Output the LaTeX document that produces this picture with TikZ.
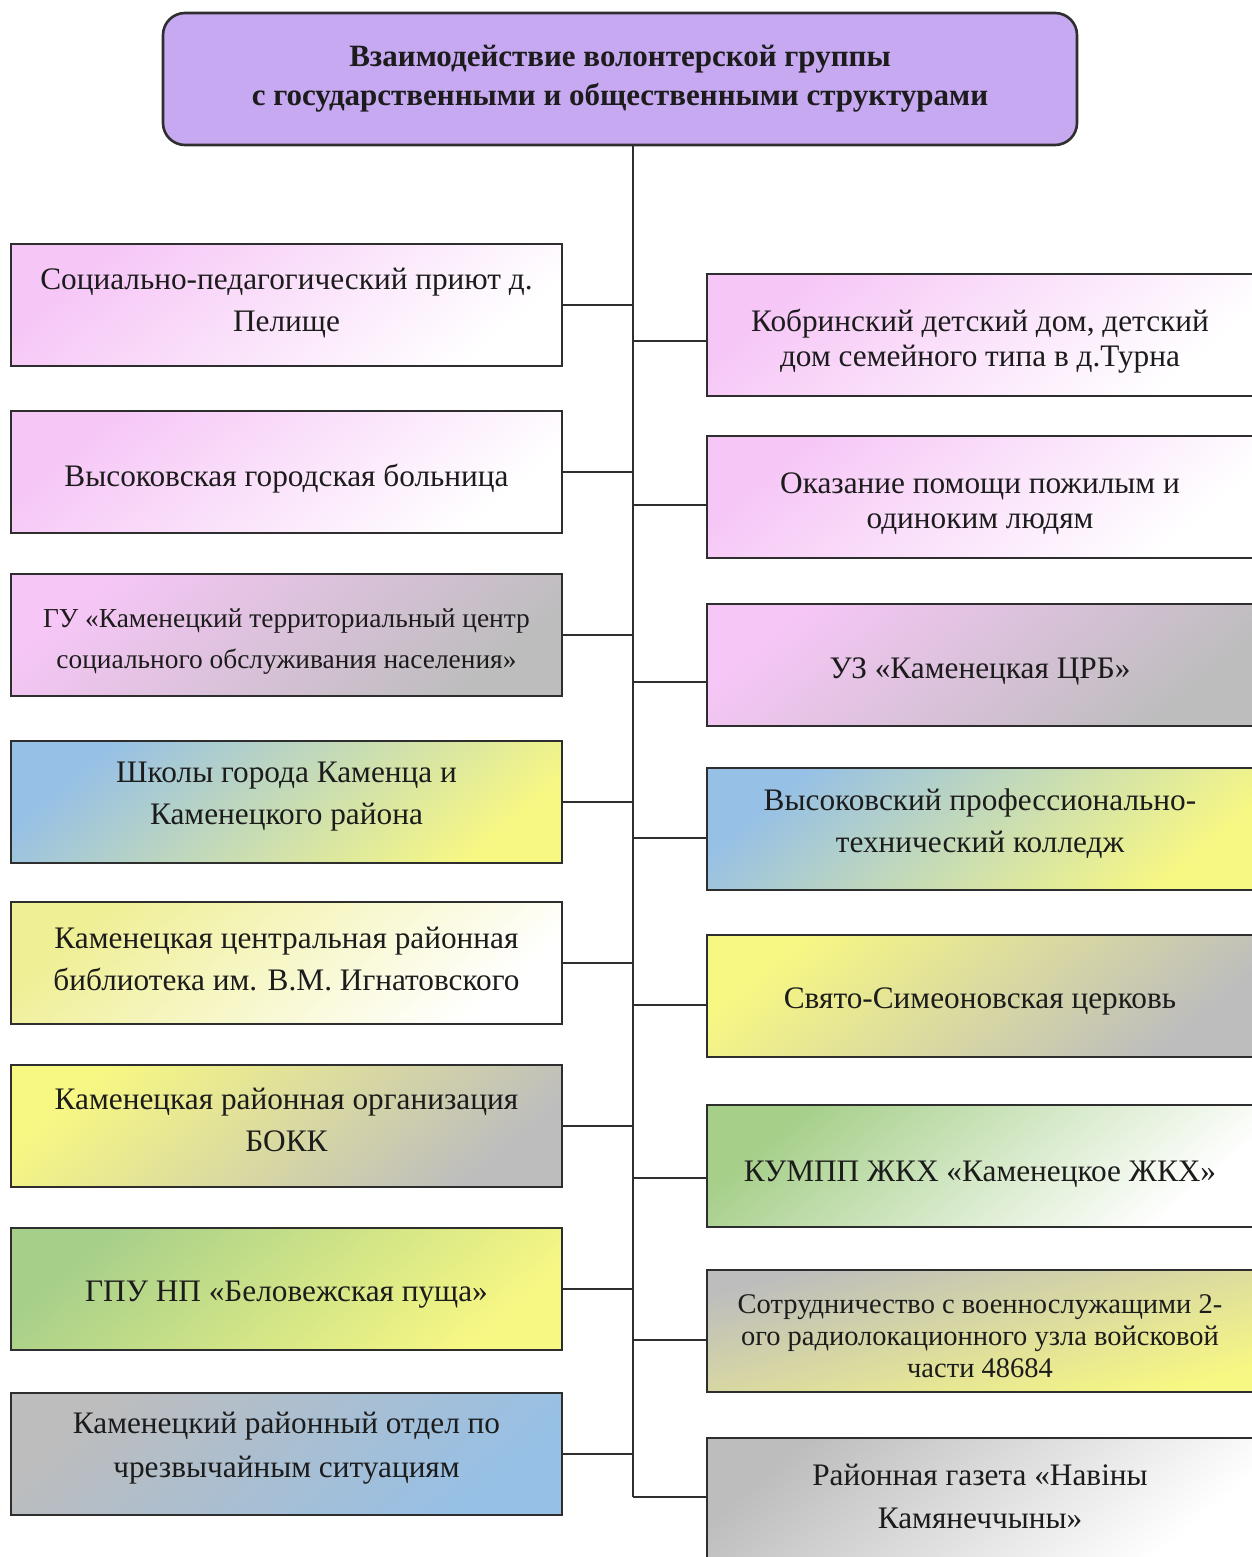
\documentclass[tikz,border=0pt]{standalone}
\usepackage{fontspec}
\setmainfont{Liberation Serif}
\begin{document}
\begin{tikzpicture}[x=1pt,y=-1pt]
\definecolor{pinkc}{HTML}{F6C6F6}
\definecolor{grayc}{HTML}{BDBDBD}
\definecolor{bluec}{HTML}{96C0E6}
\definecolor{yellc}{HTML}{F7F784}
\definecolor{greenc}{HTML}{A6CF8A}
\definecolor{lyellc}{HTML}{EFEF96}
\definecolor{purplec}{HTML}{C6A9F1}
\definecolor{linec}{HTML}{2E2E2E}
\definecolor{textc}{HTML}{1C1C1C}
\tikzset{
  gbox/.style 2 args={draw=linec, line width=2.4pt, top color=#1, bottom color=#2, shading angle=40, inner sep=0pt},
  lbox/.style={minimum width=551pt, minimum height=122pt},
  rbox/.style={minimum width=546pt, minimum height=122pt},
  txt/.style={inner sep=0pt, align=center, text=textc, font=\fontsize{31.3}{42}\selectfont},
  conn/.style={draw=linec, line width=2pt}
}
\useasboundingbox (0,0) rectangle (1251,1557);
\fill[white] (0,0) rectangle (1251,1557);

\node[draw=linec, line width=2.6pt, fill=purplec, rounded corners=22pt, minimum width=914pt, minimum height=132pt,
  align=center, text=textc, font=\bfseries\fontsize{31}{39}\selectfont] (top) at (620,79)
  {Взаимодействие волонтерской группы\\с государственными и общественными структурами};

% left column boxes
\node[gbox={pinkc}{white}, lbox] (l1) at (286.5,305) {};
\node[gbox={pinkc}{white}, lbox] (l2) at (286.5,472) {};
\node[gbox={pinkc}{grayc}, lbox] (l3) at (286.5,635) {};
\node[gbox={bluec}{yellc}, lbox] (l4) at (286.5,802) {};
\node[gbox={lyellc}{white}, lbox] (l5) at (286.5,963) {};
\node[gbox={yellc}{grayc}, lbox] (l6) at (286.5,1126) {};
\node[gbox={greenc}{yellc}, lbox] (l7) at (286.5,1289) {};
\node[gbox={grayc}{bluec}, lbox] (l8) at (286.5,1454) {};
% left texts
\node[txt] (l1t) at ([yshift=2pt]l1.center) {Социально-педагогический приют д.\\Пелище};
\node[txt] (l2t) at ([yshift=-7pt]l2.center) {Высоковская городская больница};
\node[txt, font=\fontsize{27.4}{41}\selectfont] (l3t) at ([yshift=-7pt]l3.center) {ГУ «Каменецкий территориальный центр\\социального обслуживания населения»};
\node[txt] (l4t) at ([yshift=5pt]l4.center) {Школы города Каменца и\\Каменецкого района};
\node[txt] (l5t) at ([yshift=4pt]l5.center) {Каменецкая центральная районная\\библиотека им. В.М. Игнатовского};
\node[txt] (l6t) at ([yshift=6pt]l6.center) {Каменецкая районная организация\\БОКК};
\node[txt] (l7t) at ([yshift=-6pt]l7.center) {ГПУ НП «Беловежская пуща»};
\node[txt, font=\fontsize{31.3}{44}\selectfont] (l8t) at ([yshift=6pt]l8.center) {Каменецкий районный отдел по\\чрезвычайным ситуациям};

% right column boxes
\node[gbox={pinkc}{white}, rbox] (r1) at (980,335) {};
\node[gbox={pinkc}{white}, rbox] (r2) at (980,497) {};
\node[gbox={pinkc}{grayc}, rbox] (r3) at (980,665) {};
\node[gbox={bluec}{yellc}, rbox] (r4) at (980,829) {};
\node[gbox={yellc}{grayc}, rbox] (r5) at (980,996) {};
\node[gbox={greenc}{white}, rbox] (r6) at (980,1166) {};
\node[gbox={grayc}{yellc}, rbox, shading angle=15] (r7) at (980,1331) {};
\node[gbox={grayc}{white}, rbox] (r8) at (980,1499) {};
% right texts
\node[txt, font=\fontsize{31.3}{35}\selectfont] (r1t) at ([yshift=-6pt]r1.center) {Кобринский детский дом, детский\\дом семейного типа в д.Турна};
\node[txt, font=\fontsize{31.3}{35}\selectfont] (r2t) at ([yshift=-7pt]r2.center) {Оказание помощи пожилым и\\одиноким людям};
\node[txt] (r3t) at ([yshift=-6pt]r3.center) {УЗ «Каменецкая ЦРБ»};
\node[txt] (r4t) at ([yshift=5pt]r4.center) {Высоковский профессионально-\\технический колледж};
\node[txt] (r5t) at ([yshift=-5pt]r5.center) {Свято-Симеоновская церковь};
\node[txt] (r6t) at ([yshift=-8pt]r6.center) {КУМПП ЖКХ «Каменецкое ЖКХ»};
\node[txt, font=\fontsize{28.5}{32}\selectfont] (r7t) at ([yshift=-5pt]r7.center) {Сотрудничество с военнослужащими 2-\\ого радиолокационного узла войсковой\\части 48684};
\node[txt, font=\fontsize{31.3}{43}\selectfont] (r8t) at ([yshift=3pt]r8.center) {Районная газета «Навіны\\Камянеччыны»};

% trunk
\coordinate (tA) at (633,145);
\coordinate (tB) at (633,1497);
\draw[conn] (tA) -- (tB);

\foreach \n in {l1,l2,l3,l4,l5,l6,l7,l8}{
  \draw[conn] (\n.east) -- (\n.east -| tA);
}
\draw[conn] ([yshift=-6pt]r1.west) -- ([yshift=-6pt]r1.west -| tA);
\draw[conn] ([yshift=-8pt]r2.west) -- ([yshift=-8pt]r2.west -| tA);
\draw[conn] ([yshift=-17pt]r3.west) -- ([yshift=-17pt]r3.west -| tA);
\draw[conn] ([yshift=-9pt]r4.west) -- ([yshift=-9pt]r4.west -| tA);
\draw[conn] ([yshift=-9pt]r5.west) -- ([yshift=-9pt]r5.west -| tA);
\draw[conn] ([yshift=-12pt]r6.west) -- ([yshift=-12pt]r6.west -| tA);
\draw[conn] ([yshift=-9pt]r7.west) -- ([yshift=-9pt]r7.west -| tA);
\draw[conn] ([yshift=2pt]r8.west) -- ([yshift=2pt]r8.west -| tA);
\end{tikzpicture}
\end{document}
